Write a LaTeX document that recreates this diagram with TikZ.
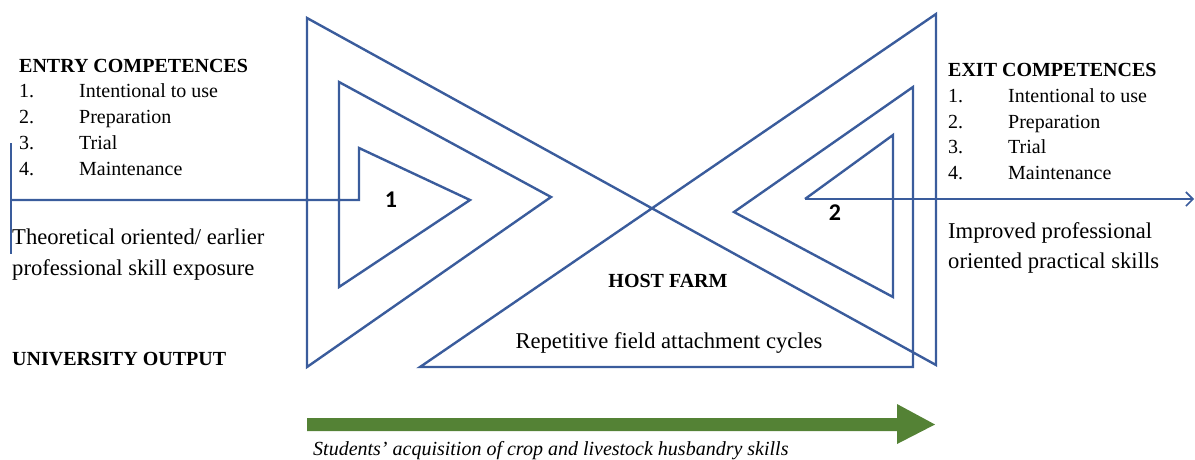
\documentclass[tikz,border=0pt]{standalone}
\usepackage{fontspec}
\setmainfont{Liberation Serif}
\newfontfamily\numfont{Carlito}
\usetikzlibrary{arrows.meta}
\definecolor{lineblue}{HTML}{3A5C9C}
\definecolor{arrowgreen}{HTML}{548235}
\tikzset{
  txt/.style={inner sep=0pt, anchor=base west, font=\fontsize{20}{24}\selectfont},
  big/.style={inner sep=0pt, anchor=base west, font=\fontsize{22.6}{26}\selectfont},
  hd/.style={txt, font=\fontsize{20}{24}\selectfont\bfseries},
  num/.style={inner sep=0pt, font=\fontsize{24}{28}\selectfont\numfont\bfseries},
  spiral/.style={draw=lineblue, line width=2.4pt, line join=miter},
}
\begin{document}
\begin{tikzpicture}[x=1pt,y=-1pt]
\useasboundingbox (0,0) rectangle (1195,459);
% spiral points
\coordinate (s0) at (10,200);
\coordinate (s1) at (359,200);
\coordinate (s2) at (359,148);
\coordinate (s3) at (470,200);
\coordinate (s4) at (339,287);
\coordinate (s5) at (339,82);
\coordinate (s6) at (551,197);
\coordinate (s7) at (307,367);
\coordinate (s8) at (307,18);
\coordinate (s9) at (936,365);
\coordinate (s10) at (936,14);
\coordinate (s11) at (420,367);
\coordinate (s12) at (913,367);
\coordinate (s13) at (913,87);
\coordinate (s14) at (734,212);
\coordinate (s15) at (893,297);
\coordinate (s16) at (893,135);
\coordinate (s17) at (805,199);
\coordinate (s18) at (1194,199);
\coordinate (t0) at (11,143);
\coordinate (t1) at (11,254);

\draw[spiral] (t0) -- (t1);
\draw[spiral] (s0) -- (s1) -- (s2) -- (s3) -- (s4) -- (s5) -- (s6) -- (s7) -- (s8)
  -- (s9) -- (s10) -- (s11) -- (s12) -- (s13) -- (s14) -- (s15) -- (s16) -- (s17);
\draw[spiral, -{Straight Barb[length=7pt,width=14pt,line width=1.6pt]}] (s17) -- (s18);

% green arrow
\coordinate (g0) at (307,418);
\coordinate (g1) at (897,418);
\coordinate (g2) at (897,404);
\coordinate (g3) at (935,424.5);
\coordinate (g4) at (897,444);
\coordinate (g5) at (897,431);
\coordinate (g6) at (307,431);
\fill[arrowgreen] (g0) -- (g1) -- (g2) -- (g3) -- (g4) -- (g5) -- (g6) -- cycle;

% left texts
\node[hd] (entry) at (19,72) {ENTRY COMPETENCES};
\node[txt] (en1) at (19,97) {1.};
\node[txt] (ei1) at (79,97) {Intentional to use};
\node[txt] (en2) at (19,123) {2.};
\node[txt] (ei2) at (79,123) {Preparation};
\node[txt] (en3) at (19,149) {3.};
\node[txt] (ei3) at (79,149) {Trial};
\node[txt] (en4) at (19,175) {4.};
\node[txt] (ei4) at (79,175) {Maintenance};
\node[big] (theo1) at (12,244) {Theoretical oriented/ earlier};
\node[big] (theo2) at (12,275) {professional skill exposure};
\node[hd] (uni) at (12,365) {UNIVERSITY OUTPUT};

% right texts
\node[hd] (exit) at (948,76) {EXIT COMPETENCES};
\node[txt] (xn1) at (948,102) {1.};
\node[txt] (xi1) at (1008,102) {Intentional to use};
\node[txt] (xn2) at (948,128) {2.};
\node[txt] (xi2) at (1008,128) {Preparation};
\node[txt] (xn3) at (948,153) {3.};
\node[txt] (xi3) at (1008,153) {Trial};
\node[txt] (xn4) at (948,179) {4.};
\node[txt] (xi4) at (1008,179) {Maintenance};
\node[big] (imp1) at (948,238) {Improved professional};
\node[big] (imp2) at (948,268) {oriented practical skills};

% centre texts
\node[num] (one) at (391,200) {1};
\node[num] (two) at (835,213) {2};
\node[hd, anchor=base] (host) at (668,287) {HOST FARM};
\node[big, anchor=base] (rep) at (669,348) {Repetitive field attachment cycles};
\node[txt, font=\fontsize{20}{24}\selectfont\itshape] (stud) at (313,455) {Students' acquisition of crop and livestock husbandry skills};
\end{tikzpicture}
\end{document}
